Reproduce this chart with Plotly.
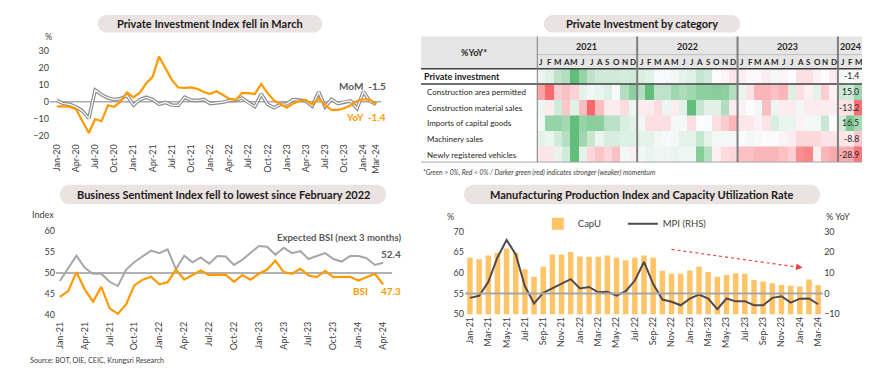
import plotly.graph_objects as go
import pandas as pd

W, H = 870, 370
FONT = "Lato, 'Open Sans', sans-serif"
TXT = "#404040"
ORANGE = "#FF9900"
GRAY = "#A6A6A6"

def px(x):
    return x / W

def py(y):
    return 1 - y / H

# ---------------- Panel 1 data: Private Investment Index ----------------
pi_months = pd.date_range("2020-01-01", "2024-03-01", freq="MS").strftime("%b-%y").tolist()
pi_yoy = [-2.7, -2.7, -2.9, -4.4, -11.2, -18.5, -10.2, -11.5, -2.0, -3.0, 0.4, 5.6,
          2.7, 5.4, 11.0, 14.8, 26.9, 19.6, 13.0, 8.5, 8.3, 8.6, 7.7, 5.8,
          4.8, 6.3, 4.2, 1.9, 1.0, 5.2, 5.2, 4.6, 10.6, 5.2, 0.8, -1.2,
          -3.5, -1.0, 0.5, 1.0, -1.5, 2.0, -2.0, -4.8, -4.8, -3.8, -2.0, 0.5,
          1.5, 1.3, -1.4]
pi_mom = [0.8, -1.0, -1.5, -3.0, -5.4, -9.8, 7.0, 4.2, 2.3, 1.3, 1.9, 3.7,
          -1.9, 1.3, 2.7, 1.3, -1.5, -0.4, -1.9, -2.1, 2.7, 1.0, 0.8, 1.5,
          -1.0, -0.6, -0.2, 0.8, 0.8, 2.3, -0.6, -2.9, 4.6, -1.5, -3.5, -1.5,
          -1.2, 1.3, 1.0, 0.5, -2.5, 5.8, -3.0, 1.5, -1.0, 0.0, 0.5, -4.0,
          6.0, 0.5, -1.5]
pi_yticks = [-20, -10, 0, 10, 20, 30]

# ---------------- Panel 2 data: heatmap by category ----------------
hm_months = pd.date_range("2021-01-01", "2024-03-01", freq="MS")
hm_letters = [m.strftime("%b")[0] for m in hm_months]
hm_years = ["2021", "2022", "2023", "2024"]
hm_rows = ["Private investment", "Construction area permitted", "Construction material sales",
           "Imports of capital goods", "Machinery sales", "Newly registered vehicles"]
hm_private = [3, 5, 11, 13, 27, 18, 11, 8, 8, 8, 7, 8,
              6, 5, 1, 1, 2, 4, 5, 10, 8, 0, -1.5, -4,
              -2.5, -0.5, -1, -3, 1.5, -1.5, 0, -5, -5, -2, 0, -3,
              1.5, 1.3, -1.4]
hm_constr_area = [-15, -25, -8, -10, -7, 4, 2, 3, 5, 1, 12, 18,
                  12, 25, 10, 10, 15, 13, 15, 18, 18, 19, 18, 12,
                  3, -4, -12, -12, -10, -12, 5, -5, -2, 4, -8, -2,
                  8, 7, 15.0]
hm_constr_mat = [1.5, -1.5, 4, -5, 2.5, -6, -14, -6, -1.5, -1.5, -3, 1.5,
                 -1.5, -1.5, -3, 1.5, -1.5, 2.5, 14, 5, 2.5, 2.5, 7, -1.5,
                 -1, 0, 1, -6, 1.5, -1.5, -1.5, 1, -1.5, -1.5, -1.5, -1.5,
                 -2.5, -2.5, -13.2]
hm_imports = [2, 20, 20, 17, 30, 20, 22, 22, 13, 13, 7, 5,
              2, -6, -6, -6, 1.5, 1.5, -6, 0, 0.5, -6, -10, -14,
              -4, -4, -2, -5, 7, 4, 4, -2, 1.5, 2, 10, 0,
              8, 25, 16.5]
hm_machinery = [4, 3, 7, 12, 25, 15, 9, 3, 6, 6, 5, 5,
                4, 4, 2, 1, 1.5, 4, 4, 9, 4, 1.5, 1.5, 1.5,
                0.5, 1.5, 1, 0, 0.5, -1.5, -2.5, -6, -6, -6, -4, -4,
                -4, -3, -8.8]
hm_vehicles = [-5, -5, 4, 9, 32, 5, -8, -12, -8, -13, 2, -3,
               2, 4, 3, 3, 4, 3, 3, 25, 15, -3, -7, -8,
               -13, -13, -15, -15, -15, -13, -10, -24, -26, -3, -15, -18,
               -18, -18, -28.9]
hm_values = [hm_private, hm_constr_area, hm_constr_mat, hm_imports, hm_machinery, hm_vehicles]

# ---------------- Panel 3 data: Business Sentiment Index ----------------
bsi_months = pd.date_range("2021-01-01", "2024-04-01", freq="MS").strftime("%b-%y").tolist()
bsi = [44.3, 45.7, 50.2, 46.1, 43.2, 46.7, 41.6, 40.3, 42.6, 47.1, 48.4, 49.1,
       47.3, 47.8, 50.8, 48.4, 49.5, 50.6, 49.5, 49.6, 49.6, 47.9, 49.5, 48.4,
       49.8, 50.8, 52.9, 50.2, 49.8, 51.0, 49.4, 49.0, 50.5, 49.0, 49.1, 49.1,
       48.2, 49.0, 49.8, 47.3]
bsi_exp = [48.1, 51.2, 54.1, 51.2, 49.8, 49.8, 47.9, 46.9, 50.8, 52.6, 54.0, 55.3,
           54.7, 55.6, 50.9, 54.1, 52.5, 53.7, 52.2, 54.0, 53.9, 51.9, 53.1, 54.7,
           56.4, 56.2, 54.3, 56.0, 54.7, 55.2, 53.3, 54.0, 54.7, 53.3, 52.7, 54.0,
           54.0, 53.5, 51.9, 52.4]
bsi_yticks = [40, 45, 50, 55, 60]

# ---------------- Panel 4 data: MPI and CapU ----------------
mp_months = pd.date_range("2021-01-01", "2024-03-01", freq="MS").strftime("%b-%y").tolist()
capu = [63.7, 63.3, 64.2, 64.9, 65.9, 64.9, 60.9, 59.1, 61.5, 64.5, 64.5, 65.1,
        64.0, 63.9, 63.9, 64.2, 63.7, 63.1, 63.7, 64.2, 63.7, 60.5, 59.8, 59.8,
        60.6, 61.5, 60.2, 59.1, 59.5, 59.9, 59.8, 58.3, 57.9, 57.5, 57.1, 56.9,
        56.7, 58.4, 57.1]
mpi = [-2.1, -1.1, 5.6, 17.5, 26.0, 19.0, 3.5, -4.8, 0.3, 2.5, 4.4, 7.0,
       2.5, 3.2, 0.6, 0.8, -1.0, 1.1, 6.3, 15.4, 4.6, -2.9, -4.0, -5.7,
       -2.5, -0.5, -2.5, -7.6, -2.4, -3.8, -3.7, -5.7, -5.7, -2.1, -1.3, -4.4,
       -2.5, -2.4, -5.2]
mp_lticks = [50, 55, 60, 65, 70]
mp_rticks = [-10, 0, 10, 20, 30]

fig = go.Figure()

# ---- Panel 1 traces
x1 = list(range(len(pi_months)))
fig.add_trace(go.Scatter(x=x1, y=pi_mom, mode="lines", line=dict(color="#8C8C8C", width=3.6),
                         showlegend=False, xaxis="x", yaxis="y"))
fig.add_trace(go.Scatter(x=x1, y=pi_mom, mode="lines", line=dict(color="#FFFFFF", width=1.2),
                         showlegend=False, xaxis="x", yaxis="y"))
fig.add_trace(go.Scatter(x=x1, y=pi_yoy, mode="lines", line=dict(color=ORANGE, width=2.2),
                         showlegend=False, xaxis="x", yaxis="y"))

# ---- Panel 2 heatmap traces (one per row, each with its own scale)
cs = [[0, "#F8696B"], [0.5, "#FCFCFF"], [1, "#63BE7B"]]
hx = list(range(len(hm_months)))
for r, vals in enumerate(hm_values):
    m = max(abs(v) for v in vals)
    fig.add_trace(go.Heatmap(x=hx, y=[r], z=[vals], colorscale=cs, zmin=-m, zmax=m,
                             showscale=False, xaxis="x2", yaxis="y2", hoverinfo="skip"))

# ---- Panel 3 traces
x3 = list(range(len(bsi_months)))
fig.add_trace(go.Scatter(x=x3, y=bsi_exp, mode="lines", line=dict(color=GRAY, width=2),
                         showlegend=False, xaxis="x3", yaxis="y3"))
fig.add_trace(go.Scatter(x=x3, y=bsi, mode="lines", line=dict(color=ORANGE, width=2.2),
                         showlegend=False, xaxis="x3", yaxis="y3"))

# ---- Panel 4 traces
x4 = list(range(len(mp_months)))
fig.add_trace(go.Bar(x=x4, y=capu, name="CapU", marker=dict(color="#FFC468", line=dict(width=0)),
                     width=0.6, xaxis="x4", yaxis="y4", showlegend=True))
fig.add_trace(go.Scatter(x=x4, y=mpi, name="MPI (RHS)", mode="lines", line=dict(color="#524A4A", width=2),
                         xaxis="x4", yaxis="y5", showlegend=True))

tickfont = dict(family=FONT, size=9, color=TXT)
axcommon = dict(showgrid=False, zeroline=False, showline=False, ticks="", tickfont=tickfont)
axplain = {k: v for k, v in axcommon.items() if k != "tickfont"}

pi_tickidx = x1[::3] + [x1[-1]]

fig.update_layout(
    width=W, height=H, margin=dict(l=0, r=0, t=0, b=0),
    paper_bgcolor="white", plot_bgcolor="rgba(0,0,0,0)",
    font=dict(family=FONT, color=TXT),
    barmode="overlay",
    xaxis=dict(domain=[px(40), px(372)], range=[-1.09, 50.78], anchor="y",
               tickvals=pi_tickidx, ticktext=[pi_months[i] for i in pi_tickidx], tickangle=-90, **axcommon),
    yaxis=dict(domain=[py(134), py(36)], range=[-23.49, 33.49], anchor="x",
               tickvals=pi_yticks, **axcommon),
    xaxis2=dict(domain=[px(528), px(855)], range=[-0.5, len(hx) - 0.5], anchor="y2",
                showticklabels=False, **axplain),
    yaxis2=dict(domain=[py(155), py(60)], range=[5.5, -0.5], anchor="x2",
                showticklabels=False, **axplain),
    xaxis3=dict(domain=[px(46), px(383)], range=[-0.48, 40.08], anchor="y3",
                tickvals=x3[::3], ticktext=bsi_months[::3], tickangle=-90, **axcommon),
    yaxis3=dict(domain=[py(315), py(219)], range=[39.07, 61.4], anchor="x3",
                tickvals=bsi_yticks, **axcommon),
    xaxis4=dict(domain=[px(456), px(815)], range=[-0.544, 38.544], anchor="y4",
                tickvals=x4[::2], ticktext=mp_months[::2], tickangle=-90, **axcommon),
    yaxis4=dict(domain=[py(310), py(222)], range=[50, 70.95], anchor="x4",
                tickvals=mp_lticks, **axcommon),
    yaxis5=dict(domain=[py(310), py(222)], range=[-10, 31.9], anchor="x4", overlaying="y4",
                side="right", tickvals=mp_rticks, **axcommon),
    legend=dict(orientation="h", x=px(529), y=py(203), xanchor="left", yanchor="top",
                font=dict(family=FONT, size=9.5, color=TXT), bgcolor="rgba(0,0,0,0)",
                itemwidth=30, entrywidth=40, entrywidthmode="pixels", tracegroupgap=0),
)

shapes = []
ann = []

def pill(x0, x1, y0, y1, text):
    r = (y1 - y0) / 2
    k = 0.5523 * r
    ym = (y0 + y1) / 2
    pts = [("M", [(x0 + r, y0)]), ("L", [(x1 - r, y0)]),
           ("C", [(x1 - r + k, y0), (x1, ym - k), (x1, ym)]),
           ("C", [(x1, ym + k), (x1 - r + k, y1), (x1 - r, y1)]),
           ("L", [(x0 + r, y1)]),
           ("C", [(x0 + r - k, y1), (x0, ym + k), (x0, ym)]),
           ("C", [(x0, ym - k), (x0 + r - k, y0), (x0 + r, y0)])]
    path = ""
    for cmd, ps in pts:
        path += cmd + " " + " ".join(f"{px(a):.5f},{py(b):.5f}" for a, b in ps) + " "
    path += "Z"
    shapes.append(dict(type="path", path=path, xref="paper", yref="paper",
                       fillcolor="#EAE3E1", line=dict(width=0), layer="below"))
    ann.append(dict(text=f"<b>{text}</b>", x=px((x0 + x1) / 2), y=py(ym), xref="paper", yref="paper",
                    showarrow=False, font=dict(family=FONT, size=11, color="#1A1A1A"),
                    xanchor="center", yanchor="middle"))

pill(88, 313, 5, 23, "Private Investment Index fell in March")
pill(535, 732, 5, 23, "Private Investment by category")
pill(50, 377, 178, 198, "Business Sentiment Index fell to lowest since February 2022")
pill(455, 812, 178, 198, "Manufacturing Production Index and Capacity Utilization Rate")

def text(x, y, s, size=9, color=TXT, anchor="left", bold=False, italic=False):
    if bold:
        s = f"<b>{s}</b>"
    if italic:
        s = f"<i>{s}</i>"
    ann.append(dict(text=s, x=px(x), y=py(y), xref="paper", yref="paper", showarrow=False,
                    xanchor=anchor, yanchor="middle", font=dict(family=FONT, size=size, color=color)))

# ---- Panel 1 decorations
shapes.append(dict(type="line", xref="x domain", yref="y", x0=0, x1=1, y0=0, y1=0,
                   line=dict(color="#808080", width=1), layer="below"))
text(33, 27, "%", 9)
text(379, 77, f"MoM  {pi_mom[-1]}", 10, "#595959", "right", bold=True)
text(379, 109, f"YoY  {pi_yoy[-1]}", 10, ORANGE, "right", bold=True)

# ---- Panel 2 table decorations
shapes.append(dict(type="rect", xref="paper", yref="paper", x0=px(412), x1=px(855), y0=py(60), y1=py(27),
                   fillcolor="#E7E6E6", line=dict(width=0), layer="below"))
shapes.append(dict(type="line", xref="x2", yref="paper", x0=-0.5, x1=len(hx) - 0.5, y0=py(45.5), y1=py(45.5),
                   line=dict(color="#BFBFBF", width=1)))
for yy, col, w in [(60, "#404040", 1.5), (75.5, "#404040", 1.5), (155, "#A6A6A6", 1)]:
    shapes.append(dict(type="line", xref="paper", yref="paper", x0=px(412), x1=px(855), y0=py(yy), y1=py(yy),
                       line=dict(color=col, width=w)))
for xb in [-0.5, 11.5, 23.5, 35.5, len(hx) - 0.5]:
    shapes.append(dict(type="line", xref="x2", yref="paper", x0=xb, x1=xb, y0=py(155), y1=py(27),
                       line=dict(color="#7F7F7F", width=2)))
text(465, 43, "%YoY*", 9, "#262626", "center", bold=True)
for i, yr in enumerate(hm_years):
    idx = [j for j, m in enumerate(hm_months) if str(m.year) == yr]
    xc = (idx[0] + idx[-1]) / 2
    ann.append(dict(text=f"<b>{yr}</b>", x=xc, y=py(37.5), xref="x2", yref="paper", showarrow=False,
                    xanchor="center", yanchor="middle", font=dict(family=FONT, size=9, color="#262626")))
for j, L in enumerate(hm_letters):
    ann.append(dict(text=f"<b>{L}</b>", x=j, y=py(53), xref="x2", yref="paper", showarrow=False,
                    xanchor="center", yanchor="middle", font=dict(family=FONT, size=8, color="#262626")))
row_y = [67.5, 83.5, 99.5, 115.5, 131.5, 147.5]
for r, name in enumerate(hm_rows):
    if r == 0:
        text(413, row_y[r], name, 9, "#1A1A1A", bold=True)
    else:
        text(416, row_y[r], name, 8.0, "#262626")
    text(853, row_y[r], f"{hm_values[r][-1]:.1f}", 8.6, "#262626", "right")
text(412, 166, "*Green > 0%, Red < 0% / Darker green (red) indicates stronger (weaker) momentum", 6.8,
     "#404040", italic=True)

# ---- Panel 3 decorations
shapes.append(dict(type="line", xref="x3 domain", yref="y3", x0=0, x1=1, y0=50, y1=50,
                   line=dict(color="#999999", width=1.5), layer="below"))
text(20, 208, "Index", 9)
text(330, 232, "Expected BSI (next 3 months)", 9.5, "#595959", "center", bold=True)
text(382, 249, f"{bsi_exp[-1]}", 10, "#595959", "center", bold=True)
text(351, 286, "BSI", 10, ORANGE, "center", bold=True)
text(382, 286, f"{bsi[-1]}", 10, ORANGE, "center", bold=True)
text(18, 357, "Source: BOT, OIE, CEIC, Krungsri Research", 7.2, "#404040")

# ---- Panel 4 decorations
shapes.append(dict(type="line", xref="x4 domain", yref="y4", x0=0, x1=1, y0=55, y1=55,
                   line=dict(color="#A6A6A6", width=2)))
text(436, 210, "%", 9)
text(830, 210, "% YoY", 9, TXT, "center")
shapes.append(dict(type="line", xref="x4", yref="y4", x0=22, y0=65.7, x1=36.0, y1=61.35,
                   line=dict(color="#E8453C", width=1.2, dash="dot")))
ann.append(dict(x=36.3, y=61.25, xref="x4", yref="y4", ax=-8, ay=-1.2, showarrow=True, arrowhead=2,
                arrowsize=1, arrowwidth=1.3, arrowcolor="#E8453C", text=""))

fig.update_layout(shapes=shapes, annotations=ann)
fig.write_html("out.html")
